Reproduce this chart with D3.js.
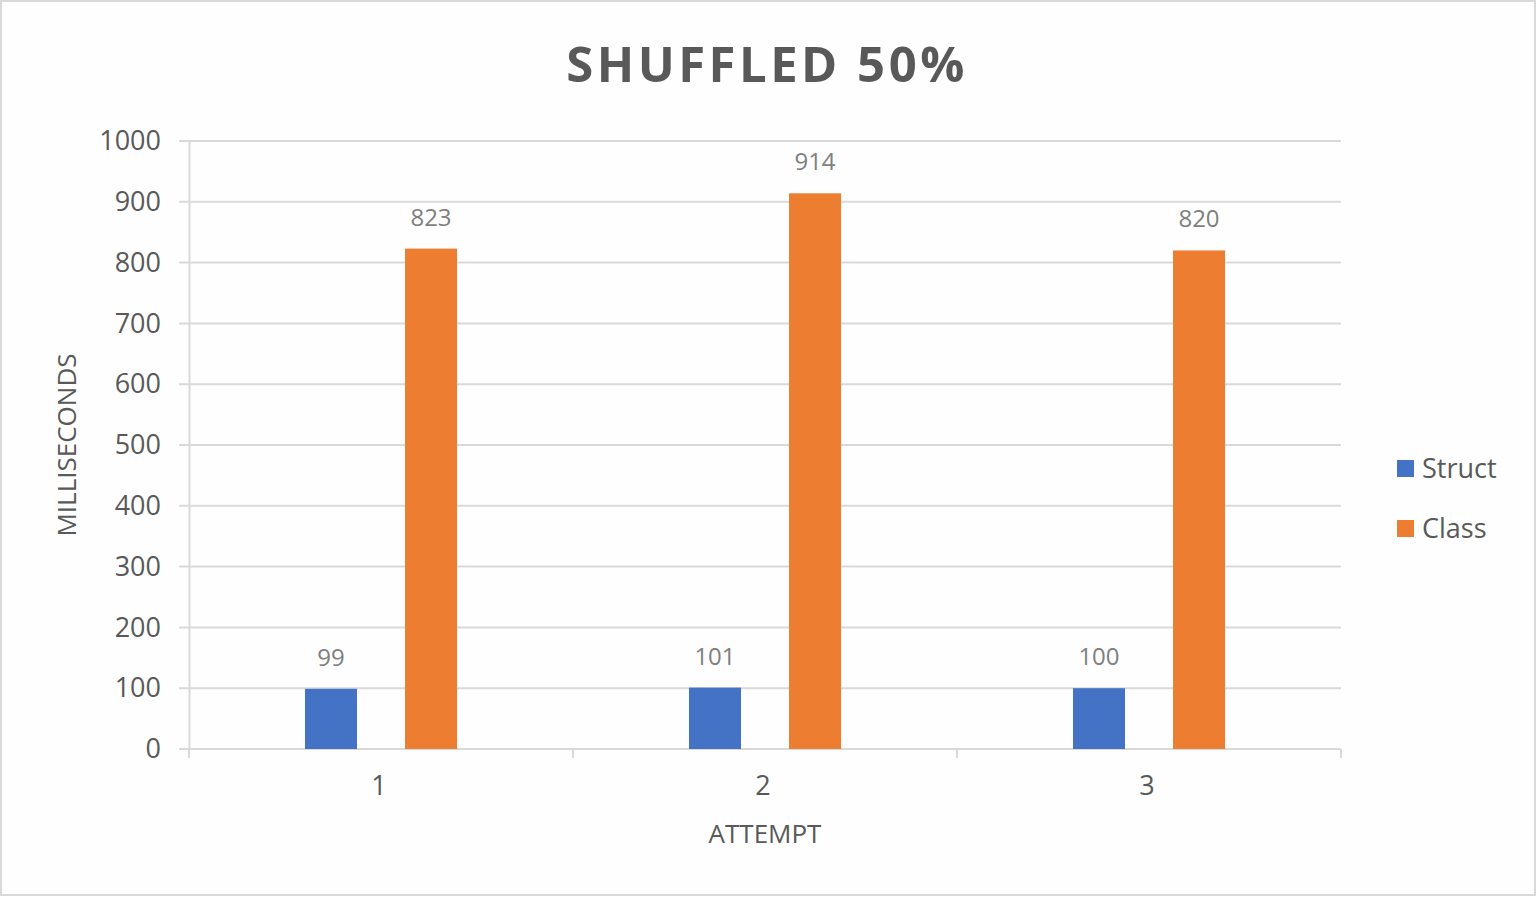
<!DOCTYPE html>
<html>
<head>
<meta charset="utf-8">
<script src="https://cdn.jsdelivr.net/npm/d3@7"></script>
<style>
  html, body { margin: 0; padding: 0; background: #fff; }
  text { font-family: "Open Sans", "Noto Sans", sans-serif; }
</style>
</head>
<body>
<script>
const title = 'SHUFFLED 50%'
const attempts = ['1', '2', '3']
const series = ['Struct', 'Class']
const structValues = [99, 101, 100]
const classValues = [823, 914, 820]
const yTicks = [0, 100, 200, 300, 400, 500, 600, 700, 800, 900, 1000]
const colors = { Struct: '#4472c4', Class: '#ed7d31' }

const width = 1536
const height = 897
const plot = { left: 189, right: 1341, top: 141, bottom: 749 }
const textColor = '#595959'
const gridColor = '#d9d9d9'

const rows = attempts.map((a, i) => ({ attempt: a, Struct: structValues[i], Class: classValues[i] }))

const svg = d3.select('body').append('svg')
  .attr('width', width)
  .attr('height', height)

// background + border
svg.append('rect')
  .attr('x', 1).attr('y', 1)
  .attr('width', width - 2).attr('height', height - 3)
  .attr('fill', '#fefefe')
  .attr('stroke', gridColor)
  .attr('stroke-width', 2)

// title
svg.append('text')
  .attr('x', 767).attr('y', 82)
  .attr('text-anchor', 'middle')
  .attr('fill', textColor)
  .attr('font-size', 49)
  .attr('font-weight', 'bold')
  .attr('letter-spacing', 3.5)
  .text(title)

const y = d3.scaleLinear().domain([0, 1000]).range([plot.bottom, plot.top])
const x0 = d3.scaleBand().domain(attempts).range([plot.left, plot.right]).padding(0)
const x1 = d3.scaleBand().domain(series)
  .range([x0.bandwidth() * 0.302, x0.bandwidth() * 0.698])
  .paddingInner(0.48).paddingOuter(0)

// gridlines
svg.append('g')
  .selectAll('line')
  .data(yTicks)
  .join('line')
  .attr('x1', plot.left - 10)
  .attr('x2', plot.right)
  .attr('y1', d => y(d))
  .attr('y2', d => y(d))
  .attr('stroke', gridColor)
  .attr('stroke-width', 2)

// y axis
const yAxis = d3.axisLeft(y).tickValues(yTicks).tickFormat(d3.format('d')).tickSize(0).tickPadding(28)
const yg = svg.append('g')
  .attr('transform', `translate(${plot.left}, 0)`)
  .call(yAxis)
yg.select('.domain').attr('stroke', gridColor).attr('stroke-width', 2)
yg.selectAll('text').attr('fill', textColor).attr('font-size', 27)
  .attr('font-family', '"Open Sans", sans-serif')

// x axis
const catEdges = [plot.left].concat(attempts.map(a => x0(a) + x0.bandwidth()))
const xg = svg.append('g')
xg.append('line')
  .attr('x1', plot.left).attr('x2', plot.right)
  .attr('y1', plot.bottom).attr('y2', plot.bottom)
  .attr('stroke', gridColor).attr('stroke-width', 2)
xg.selectAll('line.tick')
  .data(catEdges)
  .join('line')
  .attr('class', 'tick')
  .attr('x1', d => d).attr('x2', d => d)
  .attr('y1', plot.bottom).attr('y2', plot.bottom + 9)
  .attr('stroke', gridColor).attr('stroke-width', 2)
xg.selectAll('text')
  .data(attempts)
  .join('text')
  .attr('x', d => x0(d) + x0.bandwidth() / 2 - 2)
  .attr('y', 795)
  .attr('text-anchor', 'middle')
  .attr('fill', textColor)
  .attr('font-size', 27)
  .text(d => d)

// bars
const groups = svg.append('g')
  .selectAll('g')
  .data(rows)
  .join('g')
  .attr('transform', d => `translate(${x0(d.attempt)}, 0)`)

groups.selectAll('rect')
  .data(d => series.map(s => ({ key: s, value: d[s] })))
  .join('rect')
  .attr('x', d => x1(d.key))
  .attr('width', x1.bandwidth())
  .attr('y', d => y(d.value))
  .attr('height', d => y(0) - y(d.value))
  .attr('fill', d => colors[d.key])

groups.selectAll('text')
  .data(d => series.map(s => ({ key: s, value: d[s] })))
  .join('text')
  .attr('x', d => x1(d.key) + x1.bandwidth() / 2)
  .attr('y', d => y(d.value) - 23)
  .attr('text-anchor', 'middle')
  .attr('fill', '#7f7f7f')
  .attr('font-size', 24)
  .text(d => d.value)

// axis titles
svg.append('text')
  .attr('transform', 'translate(76, 445) rotate(-90)')
  .attr('text-anchor', 'middle')
  .attr('fill', textColor)
  .attr('font-size', 26)
  .text('MILLISECONDS')

svg.append('text')
  .attr('x', 765).attr('y', 843)
  .attr('text-anchor', 'middle')
  .attr('fill', textColor)
  .attr('font-size', 26)
  .text('ATTEMPT')

// legend
const legend = svg.append('g')
  .selectAll('g')
  .data(series)
  .join('g')
  .attr('transform', (d, i) => `translate(1397, ${460 + i * 60})`)
legend.append('rect')
  .attr('width', 17).attr('height', 17)
  .attr('fill', d => colors[d])
legend.append('text')
  .attr('x', 25).attr('y', 18)
  .attr('fill', textColor)
  .attr('font-size', 27)
  .text(d => d)
</script>
</body>
</html>
